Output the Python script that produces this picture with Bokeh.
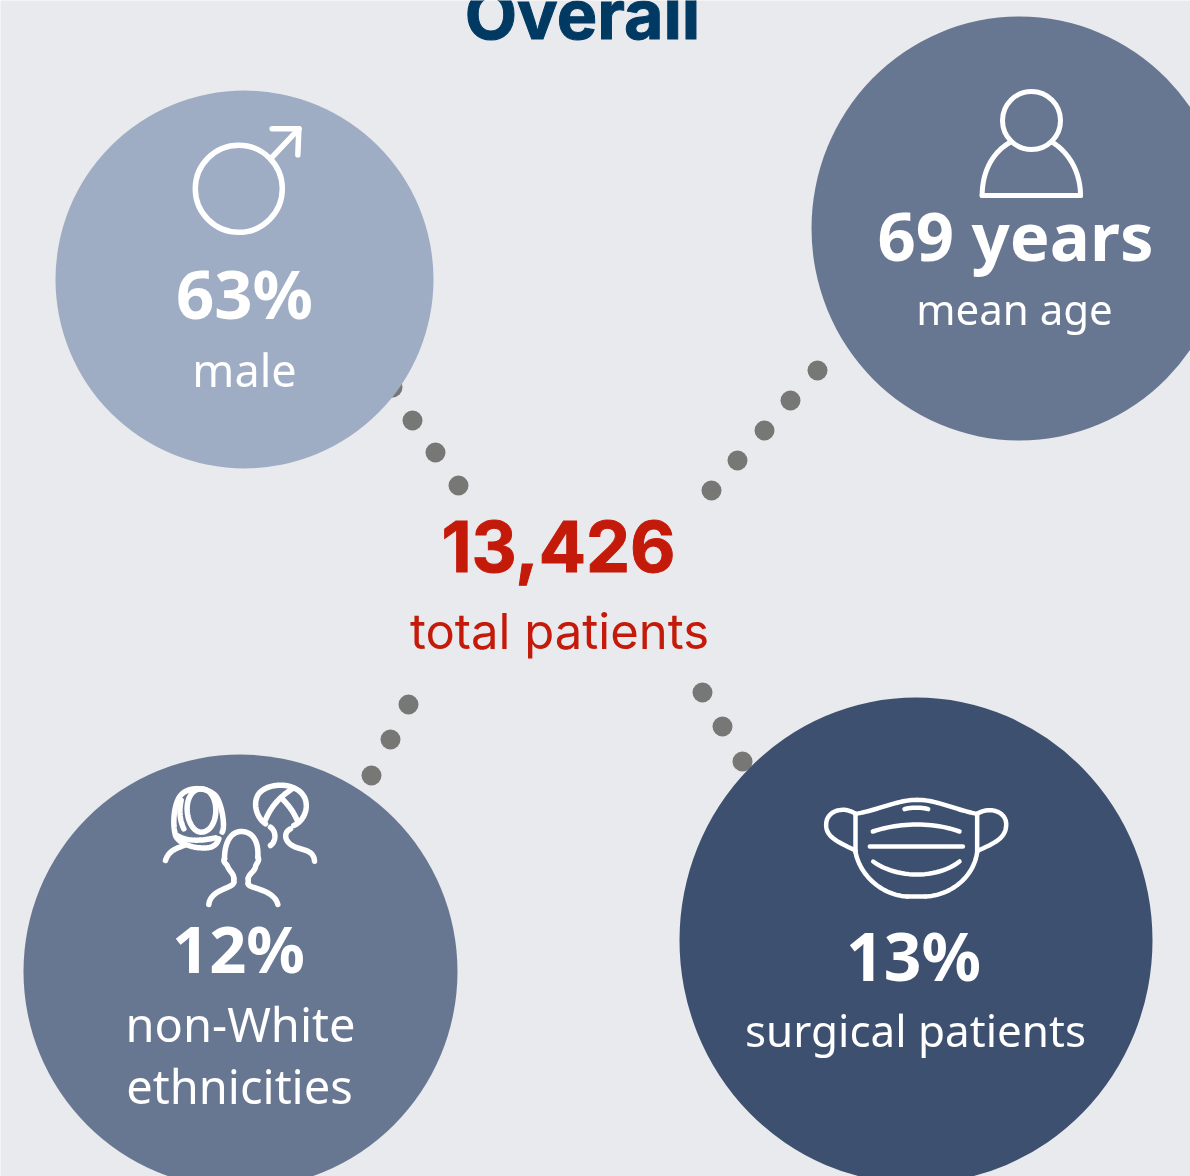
from bokeh.plotting import figure
from bokeh.embed import file_html
from bokeh.resources import INLINE
from bokeh.core.properties import value
import numpy as np

BG = "#e9eaee"
WIDTH, HEIGHT = 1190, 1176

# blobs (slightly elliptical in the reference)
circle_x = [244, 1019, 240, 915.5]
circle_y = [279, 228, 971, 940]
circle_w = [378, 416, 434, 473]
circle_h = [378, 424, 434, 486]
circle_color = ["#9fadc4", "#687791", "#687791", "#3d5070"]

# connecting dots
dot_x = [392, 412, 435, 458, 817, 790, 764, 737, 711, 408, 390, 371, 702, 722, 742]
dot_y = [387, 420, 452, 485, 370, 400, 430, 460, 490, 704, 739, 775, 692, 726, 761]

# texts: string, x, baseline y, font, size, weight, colour
labels = [
    ("Overall", 582, 39, "Inter", 68, "bold", "#003a63"),
    ("63%", 244, 318, "Noto Sans", 67, "bold", "#ffffff"),
    ("male", 244, 386, "Noto Sans", 45, "normal", "#ffffff"),
    ("69 years", 1015, 260, "Noto Sans", 67, "bold", "#ffffff"),
    ("mean age", 1014, 324, "Noto Sans", 42, "normal", "#ffffff"),
    ("13,426", 558, 573, "Inter", 70, "bold", "#c41a0a"),
    ("total patients", 559, 650, "Inter", 49, "normal", "#c41a0a"),
    ("12%", 238, 972, "Noto Sans", 65, "bold", "#ffffff"),
    ("non-White", 240, 1041, "Noto Sans", 47, "normal", "#ffffff"),
    ("ethnicities", 239, 1103, "Noto Sans", 47, "normal", "#ffffff"),
    ("13%", 913, 980, "Noto Sans", 66, "bold", "#ffffff"),
    ("surgical patients", 915, 1046, "Noto Sans", 44, "normal", "#ffffff"),
]
heavy = {"Overall", "13,426"}


def curve(*pts):
    """Flatten start point + cubic segments (3 points each) into a polyline."""
    xs, ys = [pts[0][0]], [pts[0][1]]
    for i in range(1, len(pts) - 2, 3):
        p0, p1, p2, p3 = map(np.array, (pts[i - 1], pts[i], pts[i + 1], pts[i + 2]))
        for t in np.linspace(0, 1, 25)[1:]:
            q = (1 - t) ** 3 * p0 + 3 * (1 - t) ** 2 * t * p1 + 3 * (1 - t) * t ** 2 * p2 + t ** 3 * p3
            xs.append(float(q[0])); ys.append(float(q[1]))
    return xs, ys


def seg(a, b):
    return [a[0], b[0]], [a[1], b[1]]


def place(paths, x0, y0, k=1 / 3):
    return [[x0 + v * k for v in xs] for xs, _ in paths], [[y0 + v * k for v in ys] for _, ys in paths]


male_icon = [seg((300, 145), (385, 55)), seg((305, 55), (385, 55)), seg((385, 55), (382, 133))]
person_icon = [
    curve((150, 185), (95, 215), (65, 275), (65, 345)),
    seg((65, 345), (360, 345)),
    curve((360, 345), (360, 275), (325, 215), (275, 185)),
]
mask_icon = [
    curve((135, 100), (200, 90), (260, 58), (320, 58), (380, 58), (440, 90), (500, 100)),
    seg((135, 100), (135, 215)), seg((500, 100), (500, 215)),
    curve((135, 215), (150, 290), (220, 345), (290, 348)),
    seg((290, 348), (345, 348)),
    curve((345, 348), (420, 345), (490, 290), (500, 215)),
    curve((135, 100), (100, 75), (45, 90), (47, 135), (48, 165), (70, 180), (135, 210)),
    curve((500, 100), (540, 75), (590, 95), (587, 135), (585, 170), (560, 185), (503, 210)),
    curve((282, 86), (300, 80), (335, 80), (353, 86)),
    curve((187, 153), (270, 125), (370, 125), (447, 153)),
    seg((178, 198), (457, 198)),
    curve((188, 243), (260, 295), (380, 295), (447, 243)),
]
people_icon = [
    curve((215, 215), (225, 200), (215, 130), (195, 105), (170, 80), (115, 75), (90, 105),
          (70, 130), (65, 190), (75, 225), (85, 250), (130, 265), (170, 262), (190, 260), (200, 250), (205, 235)),
    curve((152, 85), (125, 85), (108, 115), (110, 150), (112, 185), (130, 215), (152, 215),
          (178, 215), (196, 185), (196, 150), (196, 115), (180, 85), (152, 85)),
    curve((92, 120), (85, 150), (88, 180), (100, 205)),
    curve((80, 225), (110, 245), (160, 240), (195, 232)),
    curve((45, 300), (55, 270), (75, 265), (100, 255)),
    curve((345, 190), (310, 165), (305, 110), (335, 90), (370, 65), (430, 70), (455, 100),
          (480, 130), (465, 180), (430, 195)),
    curve((345, 178), (365, 130), (395, 105), (425, 85)),
    curve((395, 115), (415, 135), (430, 155), (440, 180)),
    curve((360, 200), (380, 215), (375, 245), (360, 255)),
    curve((420, 205), (400, 215), (400, 240), (425, 255), (450, 270), (490, 265), (492, 302)),
    curve((222, 295), (222, 240), (245, 213), (272, 213), (305, 213), (325, 240), (322, 290)),
    curve((322, 290), (330, 300), (315, 310), (315, 320), (310, 335), (295, 340), (293, 355)),
    seg((293, 355), (293, 370)),
    curve((293, 370), (295, 385), (370, 385), (382, 432)),
    curve((222, 295), (215, 305), (230, 310), (232, 320), (240, 335), (250, 340), (250, 355)),
    seg((250, 355), (250, 365)),
    curve((250, 365), (248, 385), (180, 385), (175, 432)),
]

p = figure(width=WIDTH, height=HEIGHT, x_range=(0, WIDTH), y_range=(HEIGHT, 0),
           output_backend="svg", toolbar_location=None, min_border=0,
           background_fill_color=BG, border_fill_color=BG, outline_line_color=None)
p.axis.visible = False
p.grid.visible = False
p.styles = {"position": "fixed", "left": "0", "top": "0"}

p.circle(dot_x, dot_y, radius=10, fill_color="#777775", line_color=None)
p.ellipse(circle_x, circle_y, width=circle_w, height=circle_h, fill_color=circle_color, line_color=None)

# icons
p.circle([238.3], [188.3], radius=43.5, fill_color=None, line_color="white", line_width=5.5)
p.circle([1031], [120], radius=29, fill_color=None, line_color="white", line_width=5)
for paths, x0, y0, lw in [(male_icon, 170, 110, 5.5), (person_icon, 960, 80, 5),
                          (mask_icon, 810, 780, 4.5), (people_icon, 150, 760, 5.5)]:
    xs, ys = place(paths, x0, y0)
    p.multi_line(xs, ys, line_color="white", line_width=lw, line_cap="round", line_join="round")

for s, x, y, font, size, weight, color in labels:
    kw = {"text_outline_color": color} if s in heavy else {}
    p.text([x], [y], text=[s], text_font=value(font), text_font_size=value(f"{size}px"),
           text_font_style=weight, text_color=color, text_align="center", text_baseline="alphabetic",
           y_offset=-0.38 * size, **kw)

open("out.html", "w").write(file_html(p, INLINE))
